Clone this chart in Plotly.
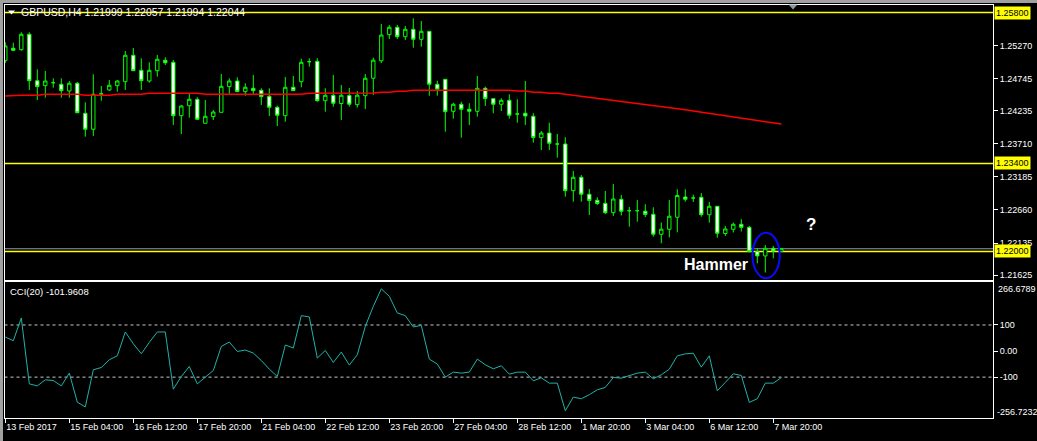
import plotly.graph_objects as go

W, H = 1037, 441
FONT = "Liberation Sans"

symbol = "GBPUSD,H4"
time_labels = ["13 Feb 2017", "15 Feb 04:00", "16 Feb 12:00", "17 Feb 20:00", "21 Feb 04:00",
               "22 Feb 12:00", "23 Feb 20:00", "27 Feb 04:00", "28 Feb 12:00", "1 Mar 20:00",
               "3 Mar 04:00", "6 Mar 12:00", "7 Mar 20:00"]

open_ = [1.25034, 1.25231, 1.25209, 1.25454, 1.24716, 1.24636, 1.24684, 1.24659, 1.24552, 1.24675,
         1.24198, 1.23943, 1.24500, 1.24568, 1.24636, 1.24700, 1.25120, 1.24881, 1.24711, 1.24875,
         1.25040, 1.25008, 1.24159, 1.24318, 1.24420, 1.24039, 1.24144, 1.24213, 1.24621, 1.24711,
         1.24541, 1.24595, 1.24563, 1.24468, 1.24293, 1.24159, 1.24611, 1.24700, 1.25018, 1.25024,
         1.24398, 1.24484, 1.24353, 1.24481, 1.24334, 1.24477, 1.24754, 1.25032, 1.25447, 1.25565,
         1.25415, 1.25533, 1.25374, 1.25501, 1.24659, 1.24738, 1.24229, 1.24341, 1.24261, 1.24229,
         1.24595, 1.24430, 1.24341, 1.24404, 1.24186, 1.24198, 1.24150, 1.23810, 1.23884, 1.23709,
         1.23709, 1.22967, 1.23180, 1.22910, 1.22814, 1.22766, 1.22617, 1.22830, 1.22649, 1.22649,
         1.22641, 1.22592, 1.22274, 1.22353, 1.22544, 1.22867, 1.22851, 1.22862, 1.22584, 1.22719,
         1.22286, 1.22353, 1.22433, 1.22385, 1.21997, 1.21929, 1.22051, 1.21999]
high = [1.25326, 1.25320, 1.25485, 1.25485, 1.24897, 1.24870, 1.24754, 1.24754, 1.24711, 1.24695,
        1.24372, 1.24818, 1.24632, 1.24727, 1.24727, 1.25188, 1.25236, 1.25072, 1.25008, 1.25125,
        1.25088, 1.25045, 1.24325, 1.24516, 1.24452, 1.24409, 1.24250, 1.24822, 1.24754, 1.24770,
        1.24675, 1.24807, 1.24595, 1.24595, 1.24318, 1.24775, 1.24791, 1.25066, 1.25072, 1.25072,
        1.24595, 1.24807, 1.24648, 1.24600, 1.24552, 1.24822, 1.25082, 1.25617, 1.25601, 1.25601,
        1.25586, 1.25708, 1.25665, 1.25501, 1.24716, 1.24738, 1.24366, 1.24382, 1.24357, 1.24791,
        1.24621, 1.24430, 1.24436, 1.24500, 1.24420, 1.24711, 1.24198, 1.23916, 1.24048, 1.23868,
        1.23816, 1.23280, 1.23216, 1.22994, 1.22863, 1.22962, 1.23073, 1.22899, 1.22708, 1.22819,
        1.22752, 1.22703, 1.22461, 1.22819, 1.22989, 1.22989, 1.22903, 1.22930, 1.22787, 1.22719,
        1.22406, 1.22461, 1.22514, 1.22406, 1.22051, 1.22103, 1.22088, 1.22057]
low = [1.24997, 1.25199, 1.25193, 1.24568, 1.24409, 1.24446, 1.24605, 1.24446, 1.24446, 1.24198,
       1.23826, 1.23837, 1.24398, 1.24552, 1.24541, 1.24568, 1.24875, 1.24568, 1.24684, 1.24780,
       1.24966, 1.24012, 1.23868, 1.24128, 1.24091, 1.24039, 1.24091, 1.24210, 1.24500, 1.24541,
       1.24477, 1.24489, 1.24330, 1.24155, 1.23996, 1.24064, 1.24557, 1.24611, 1.24939, 1.24382,
       1.24223, 1.24303, 1.24091, 1.24303, 1.24290, 1.24266, 1.24489, 1.24997, 1.25379, 1.25379,
       1.25363, 1.25241, 1.25256, 1.24477, 1.24477, 1.23905, 1.24112, 1.23810, 1.24012, 1.24144,
       1.24314, 1.24198, 1.24234, 1.24112, 1.24048, 1.24012, 1.23730, 1.23614, 1.23614, 1.23492,
       1.22872, 1.22792, 1.22792, 1.22580, 1.22740, 1.22596, 1.22565, 1.22573, 1.22395, 1.22474,
       1.22549, 1.22236, 1.22130, 1.22223, 1.22305, 1.22792, 1.22787, 1.22553, 1.22458, 1.22220,
       1.22247, 1.22302, 1.22318, 1.21995, 1.21812, 1.21666, 1.21892, 1.21994]
close = [1.25268, 1.25199, 1.25454, 1.24716, 1.24621, 1.24711, 1.24684, 1.24557, 1.24675, 1.24207,
         1.23943, 1.24500, 1.24508, 1.24643, 1.24711, 1.25120, 1.24875, 1.24716, 1.24881, 1.25056,
         1.25002, 1.24159, 1.24314, 1.24420, 1.24102, 1.24150, 1.24218, 1.24627, 1.24711, 1.24541,
         1.24611, 1.24557, 1.24462, 1.24293, 1.24166, 1.24611, 1.24557, 1.25008, 1.25018, 1.24398,
         1.24484, 1.24357, 1.24484, 1.24341, 1.24485, 1.24754, 1.25042, 1.25442, 1.25565, 1.25415,
         1.25533, 1.25374, 1.25501, 1.24659, 1.24579, 1.24223, 1.24341, 1.24261, 1.24229, 1.24595,
         1.24430, 1.24341, 1.24404, 1.24166, 1.24186, 1.24155, 1.23813, 1.23884, 1.23721, 1.23709,
         1.22967, 1.23180, 1.22910, 1.22811, 1.22763, 1.22617, 1.22835, 1.22639, 1.22649, 1.22649,
         1.22588, 1.22274, 1.22355, 1.22561, 1.22890, 1.22830, 1.22851, 1.22585, 1.22719, 1.22290,
         1.22358, 1.22433, 1.22385, 1.21997, 1.21929, 1.22051, 1.22008, 1.22044]
ma = [1.24472, 1.24484, 1.24484, 1.24484, 1.24484, 1.24500, 1.24500, 1.24500, 1.24500, 1.24500,
      1.24484, 1.24484, 1.24484, 1.24484, 1.24500, 1.24500, 1.24500, 1.24500, 1.24516, 1.24516,
      1.24516, 1.24516, 1.24516, 1.24516, 1.24516, 1.24500, 1.24500, 1.24500, 1.24500, 1.24500,
      1.24500, 1.24500, 1.24500, 1.24500, 1.24500, 1.24500, 1.24500, 1.24500, 1.24516, 1.24516,
      1.24516, 1.24516, 1.24510, 1.24510, 1.24510, 1.24520, 1.24520, 1.24531, 1.24531, 1.24547,
      1.24547, 1.24563, 1.24563, 1.24573, 1.24573, 1.24563, 1.24563, 1.24563, 1.24563, 1.24563,
      1.24563, 1.24563, 1.24563, 1.24563, 1.24552, 1.24552, 1.24531, 1.24531, 1.24516, 1.24516,
      1.24500, 1.24484, 1.24468, 1.24452, 1.24436, 1.24420, 1.24404, 1.24393, 1.24377, 1.24361,
      1.24345, 1.24325, 1.24303, 1.24287, 1.24271, 1.24253, 1.24234, 1.24215, 1.24198, 1.24178,
      1.24159, 1.24140, 1.24123, 1.24104, 1.24085, 1.24067, 1.24048, 1.24027]
cci = [53.8, 39.6, 126.9, -125.8, -133.5, -110.4, -113.1, -133.5, -84.6, -196.1,
       -214.2, -71.9, -63.1, -33.5, -18.1, 73.1, 28.1, -10.4, 33.1, 73.1,
       73.1, -146.1, -97.7, -59.2, -125.8, -100.0, -74.6, 17.7, 34.6, -1.5,
       3.8, -7.7, -36.2, -69.2, -97.7, 23.1, 11.5, 135.8, 130.8, -26.9,
       2.3, -43.8, -3.8, -53.8, -14.2, 94.6, 171.5, 238.5, 210.0, 146.1,
       135.8, 92.3, 98.5, -30.8, -50.0, -100.0, -80.8, -84.6, -80.8, -30.8,
       -52.7, -68.1, -56.5, -88.6, -80.9, -80.9, -114.0, -102.6, -123.0, -123.0,
       -228.7, -176.5, -182.8, -167.5, -148.4, -139.5, -101.3, -103.8, -93.6, -84.7,
       -80.9, -106.4, -91.1, -69.4, -18.5, -10.8, -8.3, -61.8, -18.5, -152.3,
       -120.4, -87.3, -93.6, -196.8, -182.8, -123.0, -123.0, -101.9608]

price_ticks = [1.25270, 1.24745, 1.24235, 1.23710, 1.23185, 1.22660, 1.22135, 1.21625]
levels = [1.25800, 1.23400, 1.22000]
cci_levels = [100, -100]
cci_ticks = [100, 0, -100]
cci_tick_text = ["100", "0.00", "-100"]
cci_min, cci_max = -256.7232, 266.6789
hammer_idx = 95

# ---------- pixel helpers for layout placement ----------
def px(xp):
    return xp / W

def py(yp):
    return 1 - yp / H

X_DOM = [px(4.5), px(993)]
X_RANGE = [-0.1, -0.1 + (993 - 4.5) / 8.0]
Y1_DOM = [py(279.5), py(4.5)]
Y1_RANGE = [1.215547, 1.259272]
Y2_DOM = [py(418), py(281.5)]

idx = list(range(len(open_)))
WHITE = "#ffffff"

fig = go.Figure()
fig.add_trace(go.Scatter(x=idx, y=ma, mode="lines", line=dict(color="#ff0000", width=1.5),
                         xaxis="x", yaxis="y", hoverinfo="skip"))
fig.add_trace(go.Candlestick(
    x=idx, open=open_, high=high, low=low, close=close,
    increasing=dict(line=dict(color="#00ff00", width=1), fillcolor="#000000"),
    decreasing=dict(line=dict(color="#00ff00", width=1), fillcolor="#ffffff"),
    whiskerwidth=0, xaxis="x", yaxis="y", hoverinfo="skip"))
fig.add_trace(go.Scatter(x=idx, y=cci, mode="lines", line=dict(color="#20b2aa", width=1),
                         xaxis="x2", yaxis="y2", hoverinfo="skip"))

axis_common = dict(showgrid=False, zeroline=False, showline=True, mirror=True,
                   linecolor=WHITE, linewidth=1, fixedrange=True, automargin=False)

fig.update_layout(
    width=W, height=H, margin=dict(l=0, r=0, t=0, b=0, autoexpand=False),
    paper_bgcolor="#000000", plot_bgcolor="#000000",
    showlegend=False, hovermode=False, boxgap=0.4,
    xaxis=dict(domain=X_DOM, range=X_RANGE, anchor="y", showticklabels=False, ticks="",
               rangeslider=dict(visible=False), **axis_common),
    yaxis=dict(domain=Y1_DOM, range=Y1_RANGE, anchor="x", side="right",
               tickvals=price_ticks, ticktext=[f"{v:.5f}" for v in price_ticks],
               ticks="outside", ticklen=4, tickcolor=WHITE,
               tickfont=dict(color=WHITE, size=9, family=FONT), **axis_common),
    xaxis2=dict(domain=X_DOM, range=X_RANGE, anchor="y2",
                tickvals=list(range(0, 8 * len(time_labels), 8)), ticktext=time_labels,
                ticks="outside", ticklen=4, tickcolor=WHITE, ticklabelposition="outside right",
                tickangle=0,
                tickfont=dict(color=WHITE, size=9, family=FONT), **axis_common),
    yaxis2=dict(domain=Y2_DOM, range=[cci_min, cci_max], anchor="x2", side="right",
                tickvals=cci_ticks, ticktext=cci_tick_text,
                ticks="outside", ticklen=4, tickcolor=WHITE,
                tickfont=dict(color=WHITE, size=9, family=FONT), **axis_common),
)

shapes = []
# window chrome strips
shapes.append(dict(type="rect", xref="paper", yref="paper", x0=0, x1=1, y0=py(3), y1=1,
                   fillcolor="#a0a0a0", line=dict(width=0), layer="above"))
shapes.append(dict(type="rect", xref="paper", yref="paper", x0=0, x1=px(3), y0=0, y1=1,
                   fillcolor="#a0a0a0", line=dict(width=0), layer="above"))
# horizontal levels
for lv in levels:
    shapes.append(dict(type="line", xref="x domain", yref="y", x0=0, x1=1, y0=lv, y1=lv,
                       line=dict(color="#ffff00", width=1.5), layer="below"))
# bid line
shapes.append(dict(type="line", xref="x domain", yref="y", x0=0, x1=1, y0=close[-1], y1=close[-1],
                   line=dict(color="#8e9aa8", width=1.2), layer="below"))
# CCI levels
for lv in cci_levels:
    shapes.append(dict(type="line", xref="x2 domain", yref="y2", x0=0, x1=1, y0=lv, y1=lv,
                       line=dict(color="#c8c8c8", width=1, dash="3px,3px"), layer="below"))
# ellipse around the hammer
shapes.append(dict(type="circle", xref="x", yref="y",
                   x0=hammer_idx - 1.6, x1=hammer_idx + 1.8,
                   y0=low[hammer_idx] - 0.00092, y1=high[hammer_idx] + 0.00196,
                   line=dict(color="#0a0aff", width=2), layer="above"))
# chart-shift marker and title triangle
shapes.append(dict(type="path", xref="paper", yref="paper",
                   path=f"M {px(788.5)} {py(4.5)} L {px(797.5)} {py(4.5)} L {px(793)} {py(9.5)} Z",
                   fillcolor="#8898a8", line=dict(width=0), layer="above"))
shapes.append(dict(type="path", xref="paper", yref="paper",
                   path=f"M {px(8)} {py(10.5)} L {px(15)} {py(10.5)} L {px(11.5)} {py(14.5)} Z",
                   fillcolor=WHITE, line=dict(width=0), layer="above"))

annotations = []
title = f"{symbol} {open_[-1]:.5f} {high[-1]:.5f} {low[-1]:.5f} {close[-1]:.5f}"
annotations.append(dict(text=title, xref="paper", yref="paper", x=px(19), y=py(12.5),
                        xanchor="left", yanchor="middle", showarrow=False,
                        font=dict(color=WHITE, size=10.5, family=FONT)))
for lv in levels:
    annotations.append(dict(text=f"{lv:.5f}", xref="paper", yref="y", x=px(993.5), y=lv,
                            xanchor="left", yanchor="middle", showarrow=False,
                            bgcolor="#ffff00", borderpad=1,
                            font=dict(color="#000000", size=9, family=FONT)))
annotations.append(dict(text=f"CCI(20) {cci[-1]:.4f}", xref="paper", yref="paper",
                        x=px(8), y=py(291), xanchor="left", yanchor="middle", showarrow=False,
                        font=dict(color=WHITE, size=9.5, family=FONT)))
for val, ypix, xpix in [(cci_max, 289, 996), (cci_min, 412, 994.5)]:
    annotations.append(dict(text=f"{val:.4f}", xref="paper", yref="paper",
                            x=px(xpix), y=py(ypix), xanchor="left", yanchor="middle",
                            showarrow=False, font=dict(color=WHITE, size=9, family=FONT)))
annotations.append(dict(text="<b>Hammer</b>", xref="x", yref="y",
                        x=hammer_idx - 6.2, y=low[hammer_idx] + 0.0012,
                        xanchor="center", yanchor="middle", showarrow=False,
                        font=dict(color=WHITE, size=16, family=FONT)))
annotations.append(dict(text="<b>?</b>", xref="x", yref="y",
                        x=hammer_idx + 5.7, y=high[hammer_idx] + 0.0033,
                        xanchor="center", yanchor="middle", showarrow=False,
                        font=dict(color=WHITE, size=17, family=FONT)))

fig.update_layout(shapes=shapes, annotations=annotations)

fig.write_html("out.html", config={"displayModeBar": False, "staticPlot": True},
               post_script="document.body.style.margin='0';")
